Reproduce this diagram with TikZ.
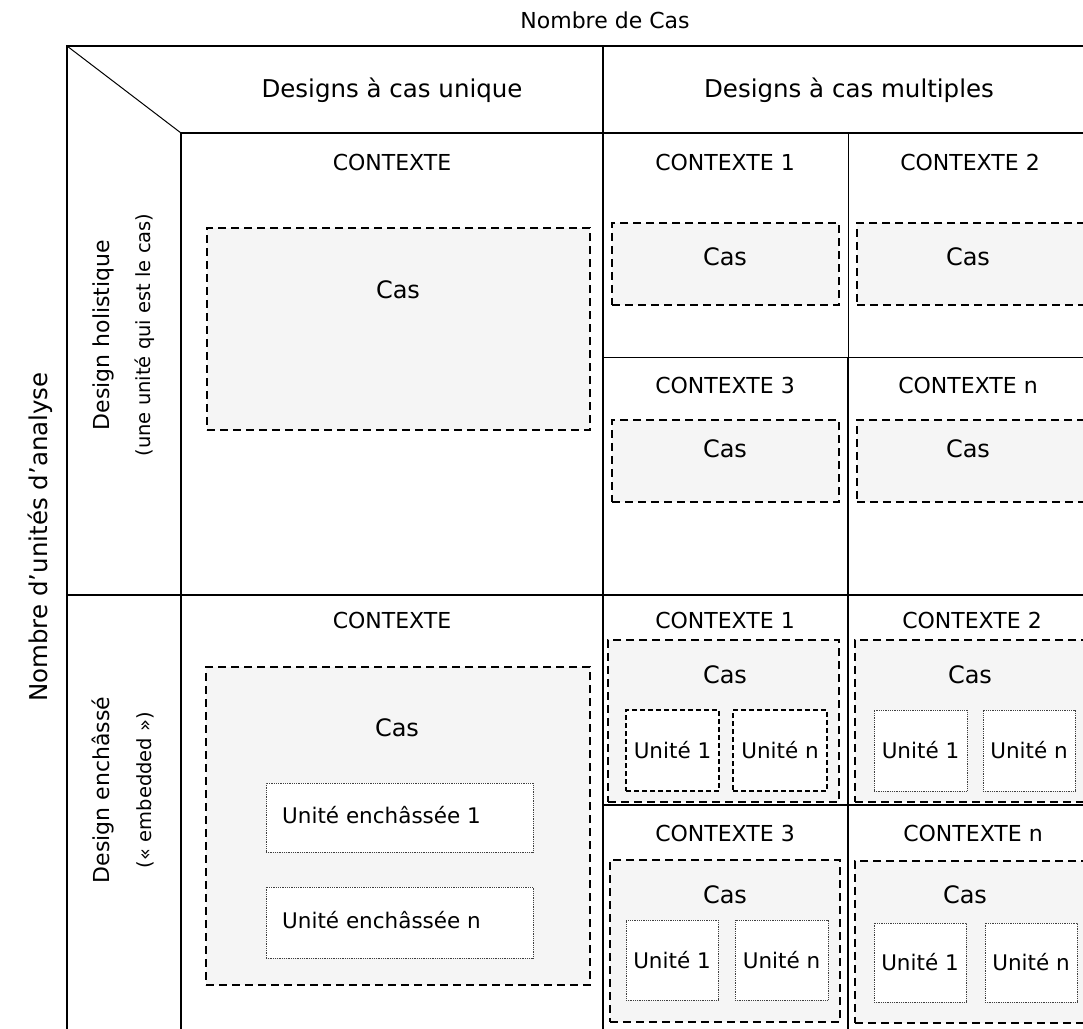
\documentclass[tikz,border=0pt]{standalone}
\usepackage{fontspec}
\setmainfont{DejaVu Sans}
\usetikzlibrary{positioning,fit}
\tikzset{
  frame/.style={line width=2.2pt},
  thinframe/.style={line width=1pt},
  casbox/.style={draw, dash pattern=on 8pt off 5pt, line width=1.4pt, fill=black!4, inner sep=0pt},
  unitdash/.style={draw, dash pattern=on 5pt off 3pt, line width=1.4pt, fill=white, inner sep=0pt},
  unitbox/.style={draw=black!75, densely dotted, line width=0.8pt, fill=white, inner sep=0pt},
  hdr/.style={inner sep=0pt, font=\fontsize{24.5}{28}\selectfont},
  side/.style={inner sep=0pt, font=\fontsize{22}{26}\selectfont},
  sub/.style={inner sep=0pt, font=\fontsize{19.5}{23}\selectfont},
  ctx/.style={inner sep=0pt, font=\fontsize{22}{26}\selectfont},
  cas/.style={inner sep=0pt, font=\fontsize{24}{28}\selectfont},
  unit/.style={inner sep=0pt, font=\fontsize{21.5}{25}\selectfont}
}

\begin{document}
\begin{tikzpicture}[x=1pt,y=-1pt]
\clip (0,0) rectangle (1083,1028);
\fill[white] (0,0) rectangle (1083,1028);

% table
\draw[frame] (1100,46) -- (67,46) -- (67,1040);
\draw[thinframe] (67,46) -- (181,133);
\draw[frame] (181,1040) -- (181,133) -- (1100,133);
\draw[frame] (603,46) -- (603,1040);
\draw[frame] (67,595) -- (1100,595);
\draw[thinframe] (848,133) -- (848,357);
\draw[thinframe] (603,357) -- (1100,357);
\draw[frame] (848,357) -- (848,1040);
\draw[frame] (603,805) -- (1100,805);

% headings
\node[side] (nbcas) at (605,20) {Nombre de Cas};
\node[hdr] (unique) at (392,90) {Designs à cas unique};
\node[hdr] (multi) at (849,90) {Designs à cas multiples};
\node[hdr, rotate=90] (nbunit) at (40,537) {Nombre d'unités d'analyse};
\node[side, rotate=90] (holist) at (103,335) {Design holistique};
\node[sub, rotate=90] (holistsub) at (145,335) {(une unité qui est le cas)};
\node[side, rotate=90] (enchas) at (103,790) {Design enchâssé};
\node[sub, rotate=90] (enchassub) at (145,790) {(« embedded »)};

% holistique, cas unique
\node[ctx] (ctxH) at (392,162) {CONTEXTE};
\node[casbox, fit={(207,228) (590,430)}] (casH) {};
\node[cas] (casHlab) at (398,290) {Cas};

% holistique, cas multiples
\node[ctx] (ctxH1) at (725,162) {CONTEXTE 1};
\node[ctx] (ctxH2) at (970,162) {CONTEXTE 2};
\node[ctx] (ctxH3) at (725,385) {CONTEXTE 3};
\node[ctx] (ctxHn) at (968,385) {CONTEXTE n};
\node[casbox, fit={(612,223) (839,305)}] (casH1) {};
\node[casbox, fit={(857,223) (1086,305)}] (casH2) {};
\node[casbox, fit={(612,420) (839,502)}] (casH3) {};
\node[casbox, fit={(857,420) (1086,502)}] (casHn) {};
\node[cas] (casH1lab) at (725,257) {Cas};
\node[cas] (casH2lab) at (968,257) {Cas};
\node[cas] (casH3lab) at (725,449) {Cas};
\node[cas] (casHnlab) at (968,449) {Cas};

% enchasse, cas unique
\node[ctx] (ctxE) at (392,620) {CONTEXTE};
\node[casbox, fit={(206,667) (590,985)}] (casE) {};
\node[cas] (casElab) at (397,728) {Cas};
\node[unitbox, fit={(266,783) (533,852)}] (uE1) {};
\node[unitbox, fit={(266,887) (533,958)}] (uEn) {};
\node[unit, anchor=west] (uE1lab) at (282,815) {Unité enchâssée 1};
\node[unit, anchor=west] (uEnlab) at (282,920) {Unité enchâssée n};

% enchasse, cas multiples
\node[ctx] (ctxE1) at (725,620) {CONTEXTE 1};
\node[ctx] (ctxE2) at (972,620) {CONTEXTE 2};
\node[ctx] (ctxE3) at (725,833) {CONTEXTE 3};
\node[ctx] (ctxEn) at (973,833) {CONTEXTE n};
\node[casbox, fit={(608,640) (839,802)}] (casE1) {};
\node[casbox, fit={(855,640) (1086,802)}] (casE2) {};
\node[casbox, fit={(610,860) (840,1022)}] (casE3) {};
\node[casbox, fit={(855,861) (1086,1023)}] (casEn) {};
\node[cas] (casE1lab) at (725,675) {Cas};
\node[cas] (casE2lab) at (970,675) {Cas};
\node[cas] (casE3lab) at (725,895) {Cas};
\node[cas] (casEnlab) at (965,895) {Cas};
\node[unitdash, fit={(626,710) (719,791)}] (uE11) {};
\node[unitdash, fit={(733,710) (827,791)}] (uE1n) {};
\node[unitbox, fit={(874,710) (967,791)}] (uE21) {};
\node[unitbox, fit={(983,710) (1075,791)}] (uE2n) {};
\node[unitbox, fit={(626,920) (718,1000)}] (uE31) {};
\node[unitbox, fit={(735,920) (828,1000)}] (uE3n) {};
\node[unitbox, fit={(874,923) (966,1002)}] (uEn1) {};
\node[unitbox, fit={(985,923) (1077,1002)}] (uEnn) {};
\node[unit] at (uE11) {Unité 1};
\node[unit] at (uE1n) {Unité n};
\node[unit] at (uE21) {Unité 1};
\node[unit] at (uE2n) {Unité n};
\node[unit] at (uE31) {Unité 1};
\node[unit] at (uE3n) {Unité n};
\node[unit] at (uEn1) {Unité 1};
\node[unit] at (uEnn) {Unité n};
\end{tikzpicture}
\end{document}
